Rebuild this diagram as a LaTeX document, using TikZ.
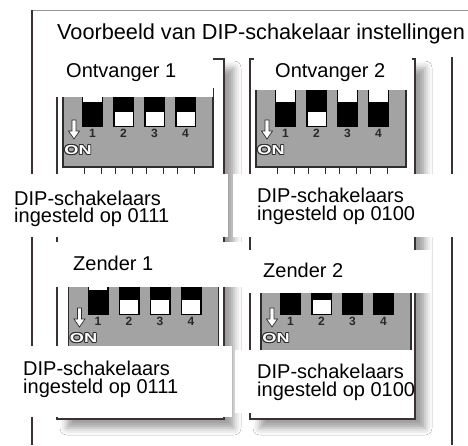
\documentclass[tikz,border=0pt]{standalone}
\usepackage{fontspec}
\setmainfont{Liberation Sans}
\usetikzlibrary{shadows.blur}
\definecolor{FrameLine}{RGB}{58,50,50}
\definecolor{TopLine}{RGB}{150,150,150}
\definecolor{BodyGray}{RGB}{163,163,163}
\definecolor{BodyLine}{RGB}{45,45,45}
\definecolor{NumGray}{RGB}{40,40,40}
\tikzset{
  top_line/.style={draw=TopLine, line width=0.9pt},
  frame_line/.style={draw=FrameLine, line width=1.4pt},
  panel/.style={
    draw=FrameLine, fill=white, line width=1.2pt,
    blur shadow={shadow xshift=10pt, shadow yshift=-9pt,
      shadow blur radius=7pt, shadow opacity=38}},
  dip_body/.style={fill=BodyGray, draw=BodyLine, line width=1.2pt},
  dip_pin/.style={draw=BodyLine, line width=1pt},
  dip_arrow/.style={fill=white, draw=BodyLine, line width=0.7pt},
  dip_num/.style={
    font=\fontsize{12}{12}\selectfont\bfseries, text=NumGray,
    inner sep=0pt, anchor=base},
  on_mark/.style={
    font=\fontsize{13}{13}\selectfont\bfseries, inner sep=0pt},
  lbl_box/.style={fill=white},
  lbl/.style={
    font=\fontsize{20}{17.5}\selectfont, anchor=base west,
    inner sep=0pt, align=left},
}
% #1 name, #2/#3 top left corner of the switch body, #4 lever states
\newcommand{\dipunit}[4]{%
  \begin{scope}[shift={(#2,#3)}]
    \draw[dip_body] (0,0) rectangle (150,78);
    \foreach \i in {0,...,3}
      \foreach \p in {2.5,19}
        \draw[dip_pin] (19+31*\i+\p,78) -- ++(0,14);
    \foreach \b [count=\n] in {#4} {
      \pgfmathsetmacro\sx{19+31*(\n-1)}
      \fill[black] (\sx,0) rectangle ++(21,38);
      \ifnum\b=0
        \fill[white] (\sx+1.3,0) rectangle ++(18.4,13);
      \else
        \fill[white] (\sx+1.5,23) rectangle ++(18,13.5);
      \fi
      \node[dip_num] (#1n\n) at (\sx+10.5,48) {\n};
    }
    \draw[dip_arrow] (9,31) -- (13,31) -- (13,42) -- (16.5,42) -- (11,50)
      -- (5.5,42) -- (9,42) -- cycle;
    \foreach \dx/\dy [count=\k] in
        {-0.9/0,0.9/0,0/-0.9,0/0.9,-0.7/-0.7,0.7/0.7,-0.7/0.7,0.7/-0.7}
      \node[on_mark, text=BodyLine] (#1c\k) at (15+\dx,61+\dy)
        {\scalebox{1.4}[1]{ON}};
    \node[on_mark, text=white] (#1on) at (15,61) {\scalebox{1.4}[1]{ON}};
  \end{scope}}

\begin{document}
\begin{tikzpicture}[x=1pt,y=-1pt]
\useasboundingbox (0,0) rectangle (468,445);
\fill[white] (0,0) rectangle (468,445);

%% outer frame
\draw[top_line] (32,10) -- (468,10);
\draw[frame_line] (32,10) -- (32,445);
\draw[frame_line] (452,57) -- (452,445);

\node[lbl, font=\fontsize{21.7}{21}\selectfont] (title) at (57,39)
  {Voorbeeld van DIP-schakelaar instellingen};

%% two columns: receivers on top, transmitters below
\path[panel] (57,59) rectangle (224,419);
\path[panel] (250,59) rectangle (415,419);

\dipunit{ra}{63}{89}{0,1,1,1}
\dipunit{rb}{256}{89}{0,1,0,0}
\dipunit{ta}{68.5}{277}{0,1,1,1}
\dipunit{tb}{261}{277}{0,1,0,0}

%% receivers
\fill[lbl_box] (45,50) rectangle (212.5,97);
\node[lbl] (ont1) at (66,77) {Ontvanger 1};
\fill[lbl_box] (254,50) rectangle (412,90);
\node[lbl] (ont2) at (275,77) {Ontvanger 2};
% base anchor sits on the second line
\fill[lbl_box] (0,174) rectangle (228,237);
\node[lbl] (set1) at (14,222.5) {DIP-schakelaars\\ingesteld op 0111};
\fill[lbl_box] (233,174) rectangle (468,237);
\node[lbl] (set2) at (257,220) {DIP-schakelaars\\ingesteld op 0100};

%% transmitters
\fill[lbl_box] (45,242) rectangle (242,287);
\node[lbl] (zen1) at (73,270) {Zender 1};
\fill[lbl_box] (242,250) rectangle (431,293);
\node[lbl] (zen2) at (263,277) {Zender 2};
\fill[lbl_box] (0,346) rectangle (232,417);
\node[lbl] (set3) at (23,393) {DIP-schakelaars\\ingesteld op 0111};
\fill[lbl_box] (235,350) rectangle (413,413);
\node[lbl] (set4) at (257,396) {DIP-schakelaars\\ingesteld op 0100};

\end{tikzpicture}
\end{document}
